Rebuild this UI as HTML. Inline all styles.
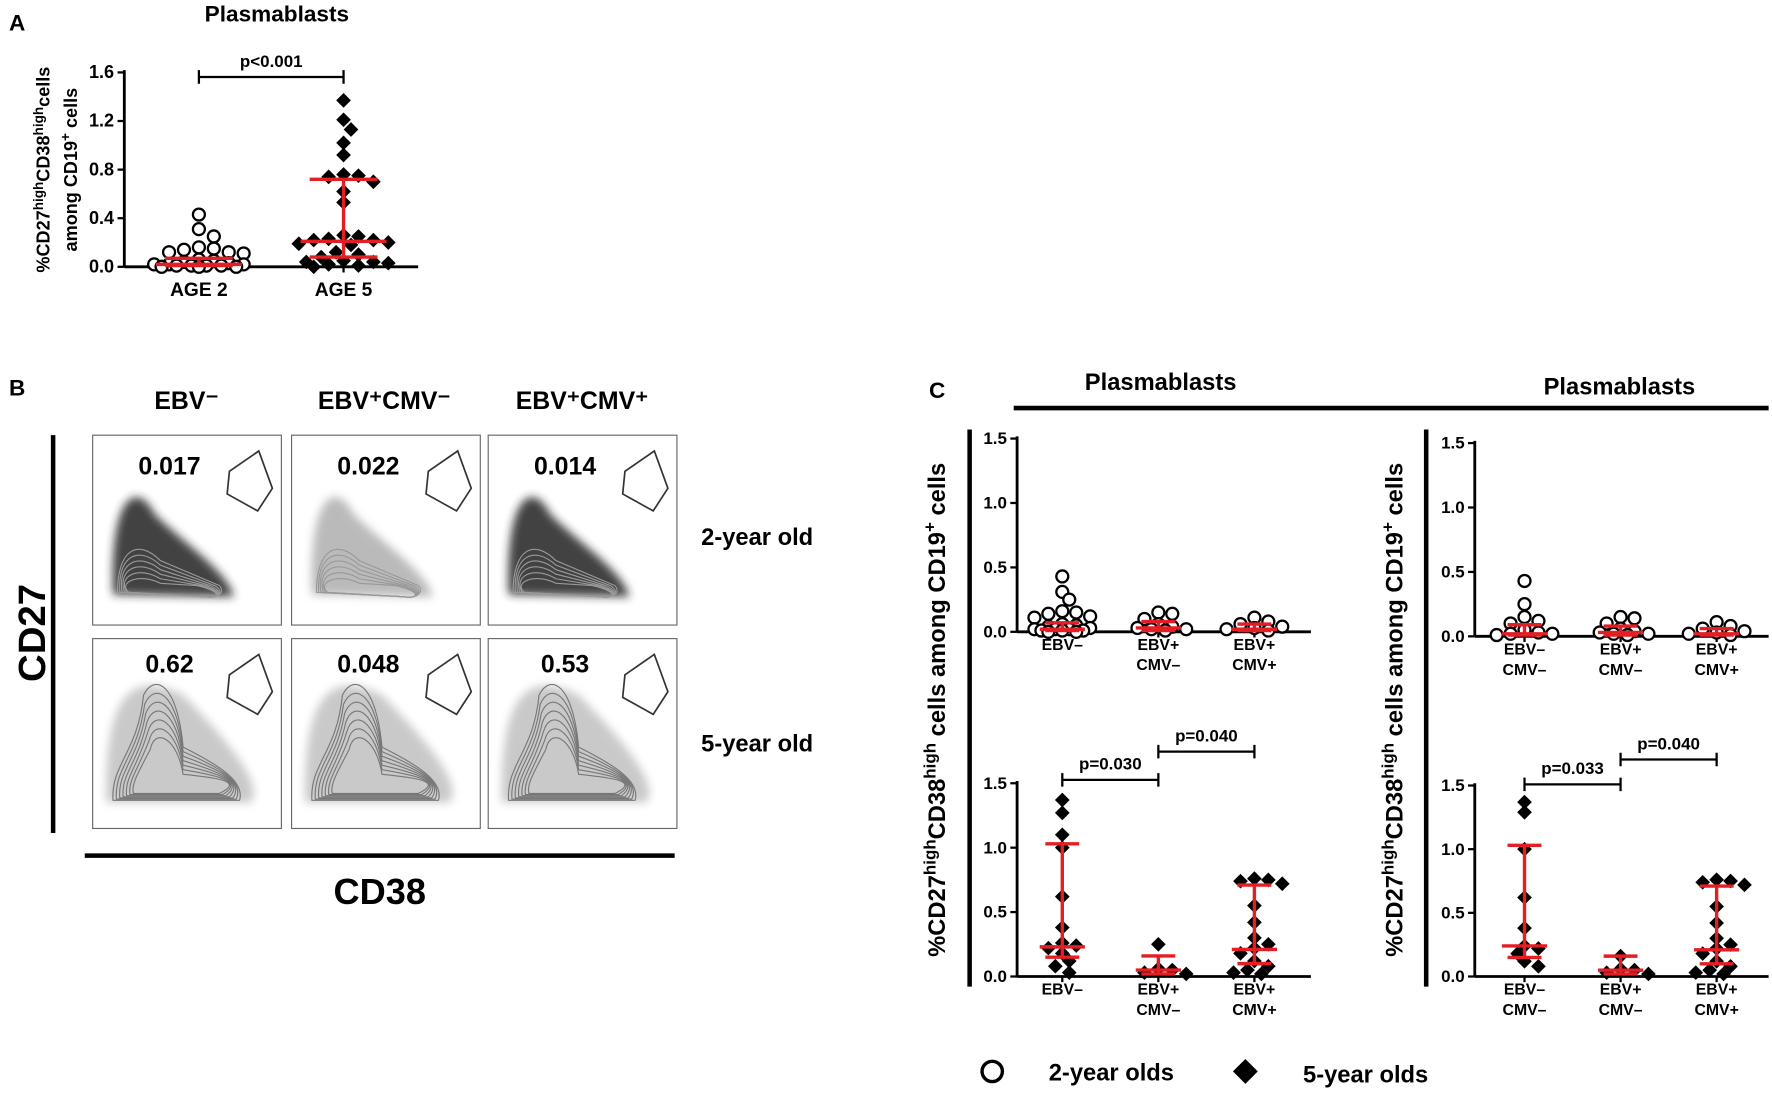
<!DOCTYPE html>
<html><head><meta charset="utf-8">
<style>
html,body{margin:0;padding:0;background:#fff;}
svg{display:block;font-family:"Liberation Sans",Arial,sans-serif;font-weight:bold;}
</style></head>
<body>
<svg id="fig" width="1772" height="1093" viewBox="0 0 1568 967" xmlns="http://www.w3.org/2000/svg">
<rect width="1568" height="967" fill="#fff"/>
<g id="root"></g>
</svg>
<script>
// ---------- DATA ----------
const panelACategories = ["AGE 2", "AGE 5"];
const age2Values = [0.43,0.31,0.25,0.16,0.15,0.14,0.12,0.12,0.11,0.06,0.05,0.04,0.03,0.02,0.02,0.02,0.01,0.01,0.01,0.01,0.0,0.0,0.0];
const age5Values = [1.37,1.21,1.13,1.02,0.92,0.76,0.75,0.74,0.70,0.62,0.53,0.26,0.25,0.23,0.22,0.22,0.20,0.19,0.18,0.12,0.10,0.08,0.05,0.04,0.04,0.03,0.02,0.01,0.0];
const age2Stats = [0.01,0.02,0.07]; // q1, median, q3
const age5Stats = [0.08,0.21,0.72];
const panelATicks = [0.0,0.4,0.8,1.2,1.6];
const panelCTicks = [0.0,0.5,1.0,1.5];

const leftCategories = [["EBV–"],["EBV+","CMV–"],["EBV+","CMV+"]];
const rightCategories = [["EBV–","CMV–"],["EBV+","CMV–"],["EBV+","CMV+"]];

const topLeftValues = [
 [0.43,0.31,0.25,0.16,0.15,0.14,0.12,0.11,0.06,0.05,0.04,0.03,0.02,0.02,0.02,0.01,0.01,0.01,0.0,0.0],
 [0.15,0.14,0.10,0.06,0.04,0.03,0.02,0.02,0.01],
 [0.11,0.08,0.06,0.04,0.03,0.02,0.01]];
const topLeftStats = [[0.01,0.02,0.07],[0.01,0.03,0.08],[0.01,0.02,0.06]];
const bottomLeftValues = [
 [1.37,1.27,1.10,1.00,0.62,0.38,0.26,0.24,0.22,0.18,0.12,0.08,0.03],
 [0.25,0.06,0.05,0.03,0.02],
 [0.76,0.75,0.74,0.72,0.55,0.42,0.30,0.25,0.22,0.18,0.12,0.08,0.05,0.03,0.02]];
const bottomLeftStats = [[0.15,0.23,1.03],[0.02,0.05,0.16],[0.10,0.21,0.71]];
const topRightValues = [
 [0.43,0.25,0.15,0.12,0.10,0.05,0.03,0.02,0.02,0.01],
 [0.15,0.14,0.10,0.06,0.04,0.03,0.02,0.02,0.01],
 [0.11,0.08,0.06,0.04,0.03,0.02,0.01]];
const topRightStats = [[0.01,0.02,0.09],[0.01,0.03,0.08],[0.01,0.02,0.06]];
const bottomRightValues = [
 [1.37,1.29,1.00,0.62,0.38,0.24,0.22,0.18,0.12,0.08],
 [0.16,0.06,0.05,0.03,0.02],
 [0.76,0.75,0.74,0.72,0.55,0.42,0.30,0.25,0.22,0.18,0.12,0.08,0.05,0.03,0.02]];
const bottomRightStats = [[0.15,0.24,1.03],[0.02,0.05,0.16],[0.10,0.21,0.71]];

const flowHeaders = ["EBV⁻","EBV⁺CMV⁻","EBV⁺CMV⁺"];
const flowRow1 = ["0.017","0.022","0.014"];
const flowRow2 = ["0.62","0.048","0.53"];

// ---------- HELPERS ----------
const NS="http://www.w3.org/2000/svg";
const root=document.getElementById('root');
function el(tag,attrs,parent,text){const e=document.createElementNS(NS,tag);for(const k in attrs)e.setAttribute(k,attrs[k]);if(text!==undefined)e.textContent=text;(parent||root).appendChild(e);return e;}
function txt(x,y,s,size,parent,anchor,name){const t=el('text',{x:x,y:y,'font-size':size,'text-anchor':anchor||'middle',fill:'#000'},parent,s);


return t;}
const RED="#e31e24";

function swarm(vals,cx,yScale,r,spread){
  const placed=[];const out=[];
  const sorted=vals.map((v,i)=>({v:v,i:i})).sort((a,b)=>b.v-a.v);
  const step=r*1.1;
  const cands=[0];for(let k=1;k*step<=spread;k++){cands.push(k*step);cands.push(-k*step);}
  const minD=r*1.6;
  for(const p of sorted){const y=yScale(p.v);let best=null,bestD=-1;
    for(const off of cands){const x=cx+off;
      let d=Infinity;placed.forEach(q=>{d=Math.min(d,Math.hypot(q.x-x,q.y-y));});
      if(d>=minD){best=x;break;}
      if(d>bestD){bestD=d;best=x;}}
    placed.push({x:best,y:y});out.push({x:best,y:y});}
  return out;
}
function marker(type,x,y,g){
  let m;
  if(type==='circle'){m=el('circle',{cx:x,cy:y,r:5.3,fill:'#fff',stroke:'#000','stroke-width':2},g);}
  else{m=el('path',{d:`M${x} ${y-6.5}L${x+6.5} ${y}L${x} ${y+6.5}L${x-6.5} ${y}Z`,fill:'#000'},g);}
  
  
}
function errbar(cx,st,yScale,g,medW,capW){
  const a=el('line',{x1:cx,x2:cx,y1:yScale(st[0]),y2:yScale(st[2]),stroke:RED,'stroke-width':3},g);
  
  
  [[st[0],capW],[st[2],capW],[st[1],medW]].forEach(([v,w])=>{
    const l=el('line',{x1:cx-w,x2:cx+w,y1:yScale(v),y2:yScale(v),stroke:RED,'stroke-width':3},g);
    
    
  });
}
function bracket(x1,x2,y,label,g){
  el('path',{d:`M${x1} ${y-6}V${y+6}M${x1} ${y}H${x2}M${x2} ${y-6}V${y+6}`,stroke:'#000','stroke-width':2,fill:'none'},g);
  txt((x1+x2)/2,y-9,label,15,g,'middle','p-value');
}

function dotPlot(opt){
  const g=el('g',{});
  
  
  const yScale=v=>opt.y0-(v/opt.yMax)*(opt.y0-opt.y1);
  el('line',{x1:opt.ax,x2:opt.ax,y1:opt.y1-2,y2:opt.y0,stroke:'#000','stroke-width':2.5},g);
  el('line',{x1:opt.ax,x2:opt.xEnd,y1:opt.y0,y2:opt.y0,stroke:'#000','stroke-width':2.5},g);
  opt.ticks.forEach(t=>{const y=yScale(t);
    el('line',{x1:opt.ax-6,x2:opt.ax,y1:y,y2:y,stroke:'#000','stroke-width':2},g);
    txt(opt.ax-9,y+5,t.toFixed(1),opt.tickSize,g,'end','y-tick-label');});
  opt.cats.forEach((c,i)=>{const cx=opt.cx[i];
    el('line',{x1:cx,x2:cx,y1:opt.y0,y2:opt.y0+5,stroke:'#000','stroke-width':2},g);
    (Array.isArray(c)?c:[c]).forEach((s,j)=>txt(cx,opt.y0+opt.catDy+j*18,s,opt.catSize,g,'middle','x-category-label'));
    const pts=swarm(opt.values[i],cx,yScale,opt.r,opt.spread);
    pts.forEach(p=>marker(opt.types[i],p.x,p.y,g));
    errbar(cx,opt.stats[i],yScale,g,opt.medW,opt.capW);
  });
  return g;
}

// ---------- PANEL A ----------
txt(8,27,"A",20,root,'start','panel-a-letter');
txt(245,19,"Plasmablasts",20,root,'middle','panel-a-title');
const gA=dotPlot({name:'panel-a-chart',ax:110,y0:236,y1:64,yMax:1.6,xEnd:370,ticks:panelATicks,tickSize:16,
  cats:panelACategories,cx:[176,304],values:[age2Values,age5Values],stats:[age2Stats,age5Stats],
  types:['circle','diamond'],catDy:26,catSize:17,r:6,spread:44,medW:38,capW:30});
bracket(176,304,68,"p<0.001",gA);
{const t=el('text',{transform:'translate(44,150) rotate(-90)','font-size':16,'text-anchor':'middle'});
 
 t.innerHTML='%CD27<tspan dy="-6" font-size="12">high</tspan><tspan dy="6">CD38</tspan><tspan dy="-6" font-size="12">high</tspan><tspan dy="6">cells</tspan>';
 const t2=el('text',{transform:'translate(68,150) rotate(-90)','font-size':16,'text-anchor':'middle'});
 
 t2.innerHTML='among CD19<tspan dy="-6" font-size="12">+</tspan><tspan dy="6"> cells</tspan>';}

// ---------- PANEL B ----------
txt(8,350,"B",20,root,'start','panel-b-letter');
const colX=[82,258,432], rowY=[385,565], bw=167, bh=168;
const headerX=[165,340,515];
flowHeaders.forEach((h,i)=>txt(headerX[i],362,h,22,root,'middle','flow-column-header'));
txt(670,482,"2-year old",21,root,'middle','row-label-2-year');
txt(670,665,"5-year old",21,root,'middle','row-label-5-year');
{const t=el('text',{transform:'translate(40,560) rotate(-90)','font-size':34,'text-anchor':'middle'},root,'CD27');
 }
el('line',{x1:47,x2:47,y1:385,y2:737,stroke:'#000','stroke-width':4});
el('line',{x1:75,x2:597,y1:757,y2:757,stroke:'#000','stroke-width':4});
txt(336,800,"CD38",32,root,'middle','cd38-axis-title');
const defs=el('defs',{});
const filt=el('filter',{id:'blur'},defs);el('feGaussianBlur',{stdDeviation:4},filt);
for(let r=0;r<2;r++)for(let c=0;c<3;c++){
  const x=colX[c],y=rowY[r];
  const g=el('g',{});
  
  
  el('rect',{x:x,y:y,width:bw,height:bh,fill:'#fff',stroke:'#666','stroke-width':1},g);
  const by=y+bh*0.78;
  if(r===0){
    el('path',{d:`M${x+18} ${by+10}C${x+15} ${y+50} ${x+40} ${y+40} ${x+55} ${y+70}C${x+80} ${y+95} ${x+120} ${by-10} ${x+125} ${by+12}Z`,fill:c===1?'#777':'#222',opacity:c===1?0.5:0.85,filter:'url(#blur)'},g);
    for(let k=0;k<6;k++){el('path',{d:`M${x+22+k*2} ${by+8}C${x+22} ${by-30+k*6} ${x+40} ${by-40+k*6} ${x+60} ${by-20+k*4}L${x+112-k*4} ${by+2}C${x+118} ${by+8} ${x+110} ${by+14} ${x+100} ${by+12}Z`,fill:'none',stroke:'#999','stroke-width':1},g);}
  } else {
    el('path',{d:`M${x+12} ${by+14}C${x+10} ${y+40} ${x+40} ${y+30} ${x+80} ${y+50}C${x+130} ${by-30} ${x+150} ${by} ${x+140} ${by+14}Z`,fill:'#666',opacity:0.35,filter:'url(#blur)'},g);
    for(let k=0;k<7;k++){el('path',{d:`M${x+18+k*3} ${by+12-k}C${x+16+k*3} ${by-20+k*3} ${x+40} ${by-30+k*3} ${x+45+k} ${y+50+k*8}C${x+55} ${y+30+k*8} ${x+75} ${y+40+k*8} ${x+80} ${by-35+k*4}C${x+110} ${by-20+k*2} ${x+135} ${by-5} ${x+130-k*3} ${by+12-k}Z`,fill:'none',stroke:'#777','stroke-width':1},g);}
  }
  txt(x+68,y+(r===0?35:30),(r===0?flowRow1:flowRow2)[c],22,g,'middle','gate-percentage');
  const gx=x+bw-48, gy=y+12;
  el('path',{d:`M${gx+2} ${gy+20}L${gx+28} ${gy+2}L${gx+40} ${gy+35}L${gx+27} ${gy+55}L${gx} ${gy+40}Z`,fill:'none',stroke:'#333','stroke-width':1.5},g);
}

// ---------- PANEL C ----------
txt(822,352,"C",20,root,'start','panel-c-letter');
txt(1027,345,"Plasmablasts",21,root,'middle','panel-c-title-left');
txt(1433,349,"Plasmablasts",21,root,'middle','panel-c-title-right');
el('line',{x1:897,x2:1565,y1:361,y2:361,stroke:'#000','stroke-width':4});
el('line',{x1:858,x2:858,y1:380,y2:873,stroke:'#000','stroke-width':4});
el('line',{x1:1262,x2:1262,y1:380,y2:873,stroke:'#000','stroke-width':4});
[[836,'panel-c-y-title-left'],[1241,'panel-c-y-title-right']].forEach(([xx,nm])=>{
  const t=el('text',{transform:`translate(${xx},628) rotate(-90)`,'font-size':21,'text-anchor':'middle'});
  
  t.innerHTML='%CD27<tspan dy="-8" font-size="15">high</tspan><tspan dy="8">CD38</tspan><tspan dy="-8" font-size="15">high</tspan><tspan dy="8"> cells among CD19</tspan><tspan dy="-8" font-size="15">+</tspan><tspan dy="8"> cells</tspan>';});
const cCommon={yMax:1.5,ticks:panelCTicks,tickSize:15,catDy:16,catSize:14,r:5.6,spread:26,medW:20,capW:15};
dotPlot(Object.assign({name:'chart-c-top-left',ax:900,y0:559,y1:388,xEnd:1160,cats:leftCategories,cx:[940,1025,1110],values:topLeftValues,stats:topLeftStats,types:['circle','circle','circle']},cCommon));
const gBL=dotPlot(Object.assign({name:'chart-c-bottom-left',ax:900,y0:864,y1:693,xEnd:1160,cats:leftCategories,cx:[940,1025,1110],values:bottomLeftValues,stats:bottomLeftStats,types:['diamond','diamond','diamond']},cCommon));
bracket(940,1025,690,"p=0.030",gBL);bracket(1025,1110,665,"p=0.040",gBL);
dotPlot(Object.assign({name:'chart-c-top-right',ax:1305,y0:563,y1:392,xEnd:1565,cats:rightCategories,cx:[1349,1434,1519],values:topRightValues,stats:topRightStats,types:['circle','circle','circle']},cCommon));
const gBR=dotPlot(Object.assign({name:'chart-c-bottom-right',ax:1305,y0:864,y1:695,xEnd:1565,cats:rightCategories,cx:[1349,1434,1519],values:bottomRightValues,stats:bottomRightStats,types:['diamond','diamond','diamond']},cCommon));
bracket(1349,1434,694,"p=0.033",gBR);bracket(1434,1519,672,"p=0.040",gBR);

// legend
const lg=el('g',{});


{const c=el('circle',{cx:878,cy:948,r:9,fill:'#fff',stroke:'#000','stroke-width':3},lg);
 
 const d=el('path',{d:'M1102 937L1113 948L1102 959L1091 948Z',fill:'#000'},lg);
 }
txt(928,956,"2-year olds",21,lg,'start','legend-entry-2-year');
txt(1153,958,"5-year olds",21,lg,'start','legend-entry-5-year');
</script>
</body></html>
